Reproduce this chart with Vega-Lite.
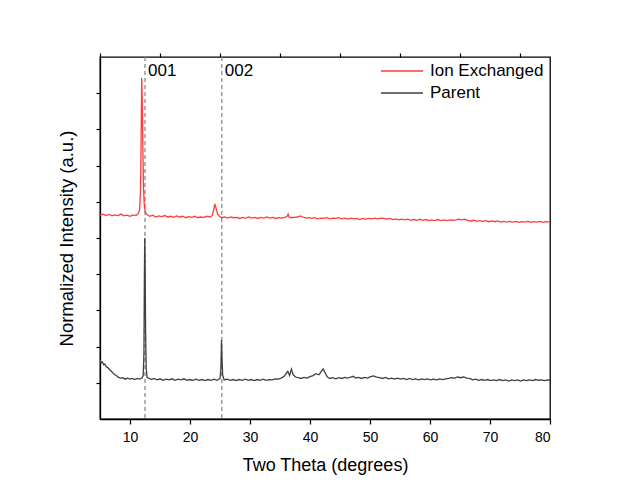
{
  "$schema": "https://vega.github.io/schema/vega-lite/v6.json",
  "width": 450,
  "height": 362,
  "autosize": {"type": "none"},
  "padding": {"left": 100, "top": 57, "right": 77, "bottom": 64},
  "background": "white",
  "config": {
    "font": "Liberation Sans",
    "view": {"stroke": "#000", "strokeWidth": 1.3},
    "axis": {"domainColor": "#000", "tickColor": "#000", "labelColor": "#000", "titleColor": "#000", "grid": false, "labelFont": "Liberation Sans", "titleFont": "Liberation Sans", "titleFontWeight": "normal", "domainWidth": 1.3, "tickWidth": 1.2}
  },
  "datasets": {
    "ion": [
      {"x":5,"y":5.63},{"x":5.5,"y":5.66},{"x":6,"y":5.62},{"x":6.5,"y":5.65},{"x":7,"y":5.61},{"x":7.5,"y":5.64},{"x":8,"y":5.62},{"x":8.5,"y":5.66},{"x":9,"y":5.61},{"x":9.5,"y":5.63},{"x":10,"y":5.6},{"x":10.5,"y":5.64},{"x":11,"y":5.62},{"x":11.4,"y":5.68},{"x":11.6,"y":5.78},{"x":11.75,"y":6.3},{"x":11.85,"y":7.6},{"x":11.95,"y":9.42},{"x":12.05,"y":8.7},{"x":12.15,"y":7.4},{"x":12.25,"y":6.4},{"x":12.4,"y":5.85},{"x":12.6,"y":5.7},{"x":12.9,"y":5.64},{"x":13.3,"y":5.6},{"x":13.8,"y":5.63},{"x":14.3,"y":5.58},{"x":14.8,"y":5.61},{"x":15.3,"y":5.59},{"x":15.8,"y":5.62},{"x":16.3,"y":5.58},{"x":16.8,"y":5.6},{"x":17.3,"y":5.57},{"x":17.8,"y":5.61},{"x":18.3,"y":5.58},{"x":18.8,"y":5.6},{"x":19.3,"y":5.56},{"x":19.8,"y":5.59},{"x":20.3,"y":5.57},{"x":20.8,"y":5.6},{"x":21.3,"y":5.56},{"x":21.8,"y":5.58},{"x":22.3,"y":5.57},{"x":22.8,"y":5.6},{"x":23.3,"y":5.58},{"x":23.7,"y":5.62},{"x":23.95,"y":5.78},{"x":24.15,"y":5.94},{"x":24.35,"y":5.82},{"x":24.6,"y":5.66},{"x":24.9,"y":5.6},{"x":25.3,"y":5.56},{"x":25.8,"y":5.58},{"x":26.3,"y":5.55},{"x":26.8,"y":5.58},{"x":27.3,"y":5.56},{"x":27.8,"y":5.57},{"x":28.3,"y":5.54},{"x":28.8,"y":5.57},{"x":29.3,"y":5.55},{"x":29.8,"y":5.58},{"x":30.3,"y":5.55},{"x":30.8,"y":5.57},{"x":31.3,"y":5.54},{"x":31.8,"y":5.57},{"x":32.3,"y":5.55},{"x":32.8,"y":5.58},{"x":33.3,"y":5.55},{"x":33.8,"y":5.57},{"x":34.3,"y":5.54},{"x":34.8,"y":5.56},{"x":35.3,"y":5.55},{"x":35.8,"y":5.57},{"x":36.2,"y":5.6},{"x":36.35,"y":5.66},{"x":36.5,"y":5.58},{"x":36.9,"y":5.56},{"x":37.4,"y":5.57},{"x":37.9,"y":5.58},{"x":38.4,"y":5.61},{"x":38.8,"y":5.58},{"x":39.3,"y":5.55},{"x":39.8,"y":5.56},{"x":40.3,"y":5.54},{"x":40.8,"y":5.56},{"x":41.3,"y":5.53},{"x":41.8,"y":5.55},{"x":42.3,"y":5.54},{"x":42.8,"y":5.56},{"x":43.3,"y":5.53},{"x":43.8,"y":5.55},{"x":44.3,"y":5.54},{"x":44.8,"y":5.56},{"x":45.3,"y":5.53},{"x":45.8,"y":5.55},{"x":46.3,"y":5.52},{"x":46.8,"y":5.55},{"x":47.3,"y":5.53},{"x":47.8,"y":5.54},{"x":48.3,"y":5.51},{"x":48.8,"y":5.54},{"x":49.3,"y":5.52},{"x":49.8,"y":5.54},{"x":50.3,"y":5.53},{"x":50.8,"y":5.55},{"x":51.3,"y":5.53},{"x":51.8,"y":5.55},{"x":52.3,"y":5.54},{"x":52.8,"y":5.52},{"x":53.3,"y":5.54},{"x":53.8,"y":5.51},{"x":54.3,"y":5.53},{"x":54.8,"y":5.5},{"x":55.3,"y":5.52},{"x":55.8,"y":5.5},{"x":56.3,"y":5.52},{"x":56.8,"y":5.49},{"x":57.3,"y":5.51},{"x":57.8,"y":5.49},{"x":58.3,"y":5.52},{"x":58.8,"y":5.49},{"x":59.3,"y":5.51},{"x":59.8,"y":5.48},{"x":60.3,"y":5.5},{"x":60.8,"y":5.48},{"x":61.3,"y":5.51},{"x":61.8,"y":5.48},{"x":62.3,"y":5.5},{"x":62.8,"y":5.48},{"x":63.3,"y":5.5},{"x":63.8,"y":5.49},{"x":64.3,"y":5.5},{"x":64.8,"y":5.52},{"x":65.3,"y":5.5},{"x":65.8,"y":5.52},{"x":66.3,"y":5.49},{"x":66.8,"y":5.47},{"x":67.3,"y":5.49},{"x":67.8,"y":5.46},{"x":68.3,"y":5.48},{"x":68.8,"y":5.46},{"x":69.3,"y":5.48},{"x":69.8,"y":5.45},{"x":70.3,"y":5.47},{"x":70.8,"y":5.45},{"x":71.3,"y":5.47},{"x":71.8,"y":5.44},{"x":72.3,"y":5.46},{"x":72.8,"y":5.44},{"x":73.3,"y":5.46},{"x":73.8,"y":5.44},{"x":74.3,"y":5.46},{"x":74.8,"y":5.43},{"x":75.3,"y":5.45},{"x":75.8,"y":5.44},{"x":76.3,"y":5.46},{"x":76.8,"y":5.43},{"x":77.3,"y":5.45},{"x":77.8,"y":5.44},{"x":78.3,"y":5.46},{"x":78.8,"y":5.43},{"x":79.3,"y":5.45},{"x":80,"y":5.44}
    ],
    "parent": [
      {"x":5,"y":1.63},{"x":5.2,"y":1.55},{"x":5.4,"y":1.58},{"x":5.6,"y":1.5},{"x":5.8,"y":1.52},{"x":6,"y":1.45},{"x":6.3,"y":1.42},{"x":6.6,"y":1.36},{"x":6.9,"y":1.32},{"x":7.2,"y":1.26},{"x":7.5,"y":1.22},{"x":7.8,"y":1.19},{"x":8.1,"y":1.15},{"x":8.4,"y":1.13},{"x":8.8,"y":1.14},{"x":9.2,"y":1.1},{"x":9.6,"y":1.13},{"x":10,"y":1.1},{"x":10.4,"y":1.12},{"x":10.8,"y":1.09},{"x":11.2,"y":1.12},{"x":11.6,"y":1.1},{"x":12,"y":1.13},{"x":12.2,"y":1.2},{"x":12.32,"y":1.8},{"x":12.4,"y":4.0},{"x":12.46,"y":5.0},{"x":12.52,"y":4.3},{"x":12.6,"y":2.4},{"x":12.7,"y":1.4},{"x":12.85,"y":1.15},{"x":13.2,"y":1.12},{"x":13.6,"y":1.09},{"x":14,"y":1.12},{"x":14.5,"y":1.08},{"x":15,"y":1.11},{"x":15.5,"y":1.07},{"x":16,"y":1.1},{"x":16.5,"y":1.08},{"x":17,"y":1.11},{"x":17.5,"y":1.07},{"x":18,"y":1.1},{"x":18.5,"y":1.08},{"x":19,"y":1.11},{"x":19.5,"y":1.07},{"x":20,"y":1.09},{"x":20.5,"y":1.07},{"x":21,"y":1.1},{"x":21.5,"y":1.07},{"x":22,"y":1.09},{"x":22.5,"y":1.06},{"x":23,"y":1.09},{"x":23.5,"y":1.07},{"x":24,"y":1.1},{"x":24.5,"y":1.07},{"x":25,"y":1.12},{"x":25.15,"y":1.4},{"x":25.25,"y":2.18},{"x":25.35,"y":1.6},{"x":25.45,"y":1.2},{"x":25.7,"y":1.08},{"x":26.2,"y":1.1},{"x":26.7,"y":1.07},{"x":27.2,"y":1.09},{"x":27.7,"y":1.06},{"x":28.2,"y":1.09},{"x":28.7,"y":1.07},{"x":29.2,"y":1.1},{"x":29.7,"y":1.07},{"x":30.2,"y":1.09},{"x":30.7,"y":1.06},{"x":31.2,"y":1.09},{"x":31.7,"y":1.07},{"x":32.2,"y":1.1},{"x":32.7,"y":1.07},{"x":33.2,"y":1.09},{"x":33.7,"y":1.08},{"x":34.2,"y":1.11},{"x":34.7,"y":1.1},{"x":35.2,"y":1.13},{"x":35.7,"y":1.18},{"x":36,"y":1.25},{"x":36.3,"y":1.32},{"x":36.6,"y":1.2},{"x":36.9,"y":1.38},{"x":37.2,"y":1.22},{"x":37.6,"y":1.16},{"x":38,"y":1.14},{"x":38.5,"y":1.12},{"x":39,"y":1.15},{"x":39.5,"y":1.13},{"x":40,"y":1.17},{"x":40.5,"y":1.2},{"x":41,"y":1.25},{"x":41.5,"y":1.22},{"x":41.9,"y":1.32},{"x":42.2,"y":1.38},{"x":42.5,"y":1.28},{"x":42.9,"y":1.16},{"x":43.3,"y":1.12},{"x":43.8,"y":1.14},{"x":44.3,"y":1.11},{"x":44.8,"y":1.14},{"x":45.3,"y":1.12},{"x":45.8,"y":1.15},{"x":46.3,"y":1.13},{"x":46.8,"y":1.16},{"x":47.2,"y":1.18},{"x":47.6,"y":1.13},{"x":48.1,"y":1.15},{"x":48.6,"y":1.12},{"x":49.1,"y":1.15},{"x":49.6,"y":1.13},{"x":50.1,"y":1.17},{"x":50.6,"y":1.19},{"x":51.1,"y":1.16},{"x":51.6,"y":1.14},{"x":52.1,"y":1.12},{"x":52.6,"y":1.15},{"x":53.1,"y":1.11},{"x":53.6,"y":1.13},{"x":54.1,"y":1.1},{"x":54.6,"y":1.13},{"x":55.1,"y":1.1},{"x":55.6,"y":1.12},{"x":56.1,"y":1.09},{"x":56.6,"y":1.12},{"x":57.1,"y":1.09},{"x":57.6,"y":1.11},{"x":58.1,"y":1.08},{"x":58.6,"y":1.11},{"x":59.1,"y":1.09},{"x":59.6,"y":1.11},{"x":60.1,"y":1.08},{"x":60.6,"y":1.1},{"x":61.1,"y":1.08},{"x":61.6,"y":1.11},{"x":62.1,"y":1.09},{"x":62.6,"y":1.11},{"x":63.1,"y":1.12},{"x":63.6,"y":1.14},{"x":64.1,"y":1.13},{"x":64.6,"y":1.16},{"x":65.1,"y":1.14},{"x":65.6,"y":1.16},{"x":66.1,"y":1.13},{"x":66.6,"y":1.12},{"x":67.1,"y":1.08},{"x":67.6,"y":1.1},{"x":68.1,"y":1.07},{"x":68.6,"y":1.09},{"x":69.1,"y":1.07},{"x":69.6,"y":1.09},{"x":70.1,"y":1.06},{"x":70.6,"y":1.08},{"x":71.1,"y":1.06},{"x":71.6,"y":1.09},{"x":72.1,"y":1.06},{"x":72.6,"y":1.08},{"x":73.1,"y":1.05},{"x":73.6,"y":1.08},{"x":74.1,"y":1.06},{"x":74.6,"y":1.08},{"x":75.1,"y":1.05},{"x":75.6,"y":1.08},{"x":76.1,"y":1.06},{"x":76.6,"y":1.08},{"x":77.1,"y":1.06},{"x":77.6,"y":1.09},{"x":78.1,"y":1.07},{"x":78.6,"y":1.08},{"x":79.1,"y":1.06},{"x":79.6,"y":1.08},{"x":80,"y":1.07}
    ],
    "peaks": [{"x":12.5,"label":"001","ly":9.6},{"x":25.3,"label":"002","ly":9.6}]
  },
  "layer": [
    {
      "data": {"name": "peaks"},
      "mark": {"type": "rule", "strokeDash": [4, 3], "color": "#8c8c8c", "strokeWidth": 1.3},
      "encoding": {
        "x": {"field": "x", "type": "quantitative", "scale": {"domain": [5, 80], "nice": false, "zero": false}, "axis": null}
      }
    },
    {
      "data": {"name": "ion"},
      "mark": {"type": "line", "strokeWidth": 1.3, "clip": true},
      "encoding": {
        "x": {"field": "x", "type": "quantitative", "scale": {"domain": [5, 80], "nice": false, "zero": false},
          "axis": {"title": "Two Theta (degrees)", "values": [10,20,30,40,50,60,70,80], "format": "d", "labelFontSize": 14, "titleFontSize": 18, "tickSize": 5, "labelPadding": 6, "titlePadding": 12, "domain": true}},
        "y": {"field": "y", "type": "quantitative", "scale": {"domain": [0, 10], "nice": false, "zero": false},
          "axis": {"title": "Normalized Intensity (a.u.)", "values": [1,2,3,4,5,6,7,8,9], "labels": false, "tickSize": 4, "titleFontSize": 18.5, "titlePadding": 19}},
        "color": {"datum": "Ion Exchanged", "type": "nominal",
          "scale": {"domain": ["Ion Exchanged", "Parent"], "range": ["#ff3b3b", "#404040"]},
          "legend": {"title": null, "orient": "none", "legendX": 280, "legendY": 3, "symbolType": "stroke", "symbolSize": 1764, "symbolStrokeWidth": 1.3, "labelFontSize": 17, "labelFont": "Liberation Sans", "labelColor": "#000", "labelOffset": 6, "rowPadding": 0, "clipHeight": 22, "padding": 0}}
      }
    },
    {
      "data": {"name": "parent"},
      "mark": {"type": "line", "strokeWidth": 1.3, "clip": true},
      "encoding": {
        "x": {"field": "x", "type": "quantitative", "scale": {"domain": [5, 80], "nice": false, "zero": false},
          "axis": {"title": null, "values": [5,15,25,35,45,55,65,75], "labels": false, "tickSize": 4, "domain": false}},
        "y": {"field": "y", "type": "quantitative", "axis": null},
        "color": {"datum": "Parent", "type": "nominal"}
      }
    },
    {
      "data": {"name": "peaks"},
      "mark": {"type": "text", "align": "left", "baseline": "middle", "dx": 3, "fontSize": 17, "font": "Liberation Sans", "color": "#000"},
      "encoding": {
        "x": {"field": "x", "type": "quantitative", "axis": null},
        "y": {"field": "ly", "type": "quantitative", "axis": null},
        "text": {"field": "label"}
      }
    }
  ],
  "resolve": {"axis": {"x": "independent", "y": "independent"}}
}
